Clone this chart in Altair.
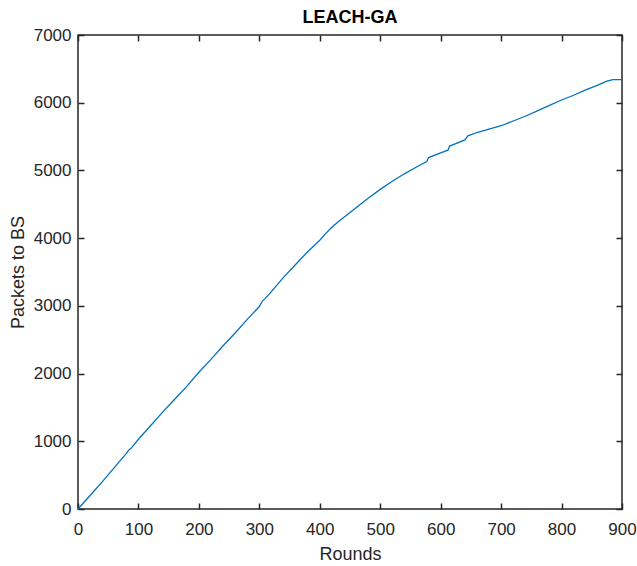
import altair as alt
import pandas as pd

# Values
rounds = [0, 20, 40, 60, 80, 84, 88, 100, 120, 140, 160, 180, 200, 220, 240, 260,
          280, 300, 305, 310, 320, 340, 360, 380, 400, 410, 420, 430, 440, 460, 480,
          500, 520, 540, 560, 577, 580, 600, 612, 615, 640, 645, 660, 680, 700, 720,
          740, 760, 780, 800, 820, 840, 860, 875, 885, 900]
packets = [0, 200, 400, 610, 820, 870, 900, 1030, 1230, 1430, 1620, 1810, 2020, 2210,
           2410, 2600, 2800, 2990, 3070, 3110, 3210, 3420, 3610, 3800, 3970, 4070,
           4160, 4240, 4310, 4450, 4590, 4720, 4840, 4950, 5050, 5130, 5190, 5260,
           5300, 5360, 5450, 5510, 5560, 5610, 5660, 5730, 5800, 5880, 5960, 6040,
           6110, 6190, 6260, 6320, 6340, 6340]
x_ticks = [0, 100, 200, 300, 400, 500, 600, 700, 800, 900]
y_ticks = [0, 1000, 2000, 3000, 4000, 5000, 6000, 7000]

df = pd.DataFrame({"Rounds": rounds, "Packets": packets})

INK = "#262626"
FONT = "Liberation Sans"
LINE = "#0072BD"

xscale = alt.Scale(domain=[0, 900], nice=False, zero=False)
yscale = alt.Scale(domain=[0, 7000], nice=False, zero=False)

common_axis = dict(domain=False, tickSize=6, tickWidth=1.5, tickColor=INK,
                   offset=-6, grid=False, labelOverlap=False, labelFlush=False)

x_bottom = alt.X("Rounds:Q", scale=xscale,
                 axis=alt.Axis(orient="bottom", values=x_ticks, format="d",
                               labelPadding=12, labelFontSize=17, labelFont=FONT,
                               labelColor=INK, title="Rounds", titleFont=FONT,
                               titleFontSize=18, titleFontWeight="normal",
                               titleColor=INK, titlePadding=8, **common_axis))
y_left = alt.Y("Packets:Q", scale=yscale,
               axis=alt.Axis(orient="left", values=y_ticks, format="d",
                             labelPadding=7, labelFontSize=17, labelFont=FONT,
                             labelColor=INK, title="Packets to BS", titleFont=FONT,
                             titleFontSize=18, titleFontWeight="normal",
                             titleColor=INK, titlePadding=6, **common_axis))

line = alt.Chart(df).mark_line(color=LINE, strokeWidth=1.3).encode(x=x_bottom, y=y_left)

x_top = alt.X("Rounds:Q", scale=xscale,
              axis=alt.Axis(orient="top", values=x_ticks, labels=False, title=None,
                            **common_axis))
y_right = alt.Y("Packets:Q", scale=yscale,
                axis=alt.Axis(orient="right", values=y_ticks, labels=False, title=None,
                              **common_axis))
ghost = alt.Chart(df).mark_line(opacity=0).encode(x=x_top, y=y_right)

chart = alt.layer(ghost, line).resolve_axis(x="independent", y="independent").properties(
    width=544,
    height=474,
    title=alt.TitleParams("LEACH-GA", font=FONT, fontSize=18, fontWeight="bold",
                          color="#000000", anchor="middle", offset=7, dy=8,
                          frame="group"),
    autosize=alt.AutoSizeParams(type="none"),
    padding={"left": 78, "top": 35, "right": 15, "bottom": 57},
    background="white",
).configure_view(stroke=INK, strokeWidth=1.5)

chart.save("out.html", embed_options={"renderer": "svg", "actions": False})
